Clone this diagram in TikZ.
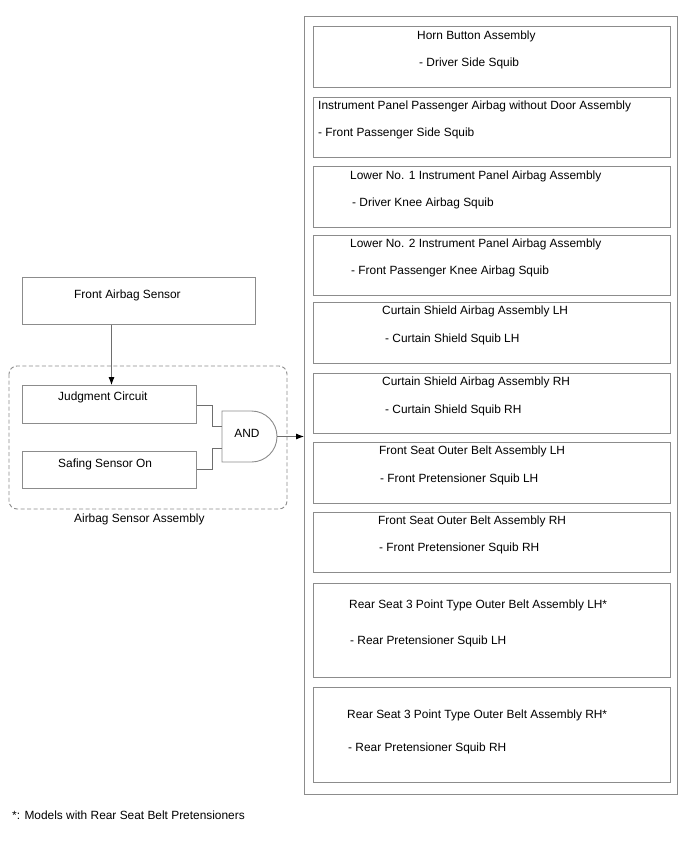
\documentclass[tikz,border=0pt]{standalone}
\usepackage{fontspec}
\setmainfont{Liberation Sans}
\usetikzlibrary{arrows.meta}
\definecolor{boxgray}{HTML}{8C8C8C}
\definecolor{wiregray}{HTML}{6E6E6E}
\begin{document}
\begin{tikzpicture}[x=1pt,y=-1pt,
  box/.style={draw=boxgray, line width=0.9pt, inner sep=0pt, anchor=north west},
  lbl/.style={anchor=base west, inner sep=0pt, font=\fontsize{11.9}{13}\selectfont},
  wire/.style={draw=wiregray, line width=0.8pt},
  arr/.style={wire, -{Latex[length=8pt,width=6pt,color=black]}}]
\useasboundingbox (0,0) rectangle (688,852);
\fill[white] (0,0) rectangle (688,852);

% outer container
\node[box, minimum width=373pt, minimum height=778pt] (outer) at (304,16) {};

% inner boxes
\node[box, minimum width=357pt, minimum height=61pt] (b1) at (313,26) {};
\node[box, minimum width=357pt, minimum height=60pt] (b2) at (313,97) {};
\node[box, minimum width=357pt, minimum height=61pt] (b3) at (313,166) {};
\node[box, minimum width=357pt, minimum height=60pt] (b4) at (313,235) {};
\node[box, minimum width=357pt, minimum height=61pt] (b5) at (313,302) {};
\node[box, minimum width=357pt, minimum height=60pt] (b6) at (313,373) {};
\node[box, minimum width=357pt, minimum height=61pt] (b7) at (313,442) {};
\node[box, minimum width=357pt, minimum height=60pt] (b8) at (313,512) {};
\node[box, minimum width=357pt, minimum height=94pt] (b9) at (313,583) {};
\node[box, minimum width=357pt, minimum height=95pt] (b10) at (313,687) {};

\node[lbl] (t1) at (417,39) {Horn Button Assembly};
\node[lbl] (s1) at (419,66) {- Driver Side Squib};
\node[lbl] (t2) at (318,109) {Instrument Panel Passenger Airbag without Door Assembly};
\node[lbl] (s2) at (318,136) {- Front Passenger Side Squib};
\node[lbl] (t3) at (350,179) {Lower No. 1 Instrument Panel Airbag Assembly};
\node[lbl] (s3) at (352,206) {- Driver Knee Airbag Squib};
\node[lbl] (t4) at (350,247) {Lower No. 2 Instrument Panel Airbag Assembly};
\node[lbl] (s4) at (351,274) {- Front Passenger Knee Airbag Squib};
\node[lbl] (t5) at (382,314) {Curtain Shield Airbag Assembly LH};
\node[lbl] (s5) at (385,342) {- Curtain Shield Squib LH};
\node[lbl] (t6) at (382,385) {Curtain Shield Airbag Assembly RH};
\node[lbl] (s6) at (385,413) {- Curtain Shield Squib RH};
\node[lbl] (t7) at (379,454) {Front Seat Outer Belt Assembly LH};
\node[lbl] (s7) at (380,482) {- Front Pretensioner Squib LH};
\node[lbl] (t8) at (378,524) {Front Seat Outer Belt Assembly RH};
\node[lbl] (s8) at (379,551) {- Front Pretensioner Squib RH};
\node[lbl] (t9) at (349,608) {Rear Seat 3 Point Type Outer Belt Assembly LH*};
\node[lbl] (s9) at (350,644) {- Rear Pretensioner Squib LH};
\node[lbl] (t10) at (347,718) {Rear Seat 3 Point Type Outer Belt Assembly RH*};
\node[lbl] (s10) at (348,751) {- Rear Pretensioner Squib RH};

% left side
\node[box, minimum width=233pt, minimum height=47pt] (fas) at (22,277) {};
\node[lbl] (fast) at (74,298) {Front Airbag Sensor};

\draw[draw=boxgray, line width=0.9pt, dashed, dash pattern=on 4pt off 2.5pt, rounded corners=8pt]
  (9,366) rectangle (287,509);
\node[lbl] (asml) at (74,522) {Airbag Sensor Assembly};

\node[box, minimum width=174pt, minimum height=38pt] (jc) at (22,385) {};
\node[lbl] (jct) at (58,400) {Judgment Circuit};
\node[box, minimum width=174pt, minimum height=37pt] (ss) at (22,451) {};
\node[lbl] (sst) at (58,467) {Safing Sensor On};

% AND gate
\draw[draw=boxgray, line width=0.9pt] (222,411) -- (251.5,411) arc[start angle=-90, end angle=90, radius=25.5] -- (222,462) -- cycle;
\coordinate (gin1) at (222,426);
\coordinate (gin2) at (222,448);
\coordinate (gout) at (277,436.5);
\node[anchor=center, inner sep=0pt, font=\fontsize{11.9}{13}\selectfont] (andt) at (247,433) {AND};

% connectors
\draw[arr] (fas.south -| 111.5,0) -- (jc.north -| 111.5,0);
\draw[wire] (jc.east |- 0,405) -- (212,405) -- (212,426) -- (gin1);
\draw[wire] (ss.east |- 0,469) -- (212,469) -- (212,448) -- (gin2);
\draw[arr] (gout) -- (outer.west |- gout);

% footnote
\node[lbl] (fn) at (12,819) {*: Models with Rear Seat Belt Pretensioners};
\end{tikzpicture}
\end{document}
